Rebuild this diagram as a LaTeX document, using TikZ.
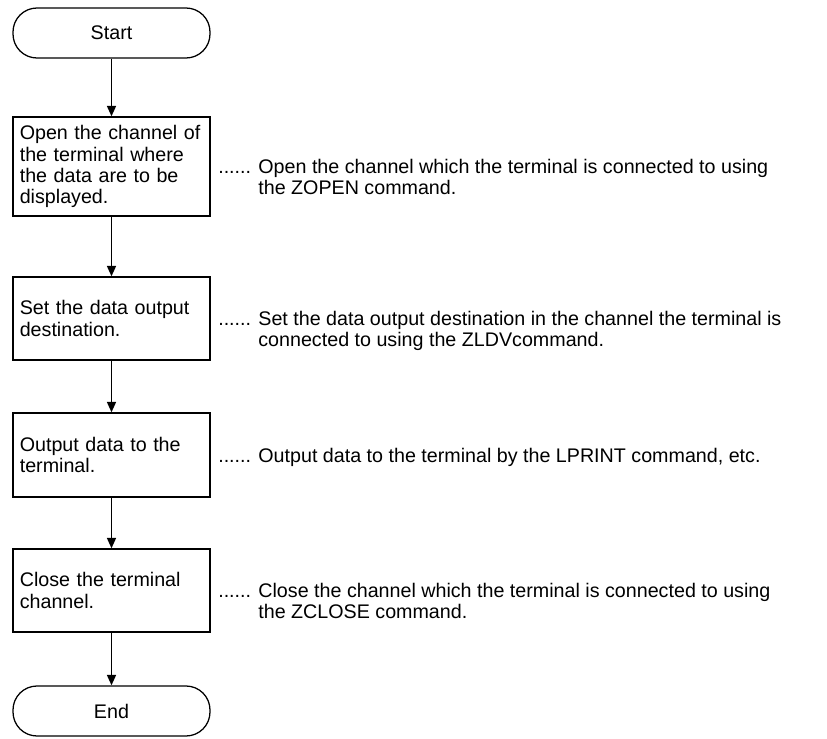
\documentclass[tikz,border=0pt]{standalone}
\usepackage{fontspec}
\setmainfont{Liberation Sans}
\usetikzlibrary{arrows.meta,positioning}
\tikzset{
  term/.style={draw, rectangle, rounded corners=0.6cm, line width=0.9pt, minimum width=4.925cm, minimum height=1.25cm, inner sep=0pt},
  stepbox/.style={draw, rectangle, line width=0.9pt, text width=4.585cm, inner xsep=0.17cm, align=left},
  note/.style={anchor=base west, inner sep=0pt},
  arr/.style={-{Triangle[length=2.6mm,width=2.2mm]}, line width=1.4pt}
}

\begin{document}
\begin{tikzpicture}[font=\fontsize{14}{15}\selectfont]
\useasboundingbox (0,0) rectangle (20.675,-18.45);
\node[term] (start) at (2.7875,-0.825) {Start};
\node[stepbox, minimum height=2.475cm] (open) at (2.7875,-4.1625) {Open the channel of the terminal where the data are to be displayed.};
\node[stepbox, minimum height=2.075cm] (dest) at (2.7875,-7.9625) {Set the data output destination.};
\node[stepbox, minimum height=2.1cm] (out) at (2.7875,-11.375) {Output data to the terminal.};
\node[stepbox, minimum height=2.075cm] (close) at (2.7875,-14.7625) {Close the terminal channel.};
\node[term] (stop) at (2.7875,-17.775) {End};
\draw[arr] (start) -- (open);
\draw[arr] (open) -- (dest);
\draw[arr] (dest) -- (out);
\draw[arr] (out) -- (close);
\draw[arr] (close) -- (stop);

% remarks beside the steps
\node[note] (nopen) at (5.45,-4.3375) {\begin{tabular}[t]{@{}l@{ }l@{}}......&Open the channel which the terminal is connected to using\\ &the ZOPEN command.\end{tabular}};
\node[note] (ndest) at (5.45,-8.1375) {\begin{tabular}[t]{@{}l@{ }l@{}}......&Set the data output destination in the channel the terminal is\\ &connected to using the ZLDVcommand.\end{tabular}};
\node[note] (nout) at (5.45,-11.55) {\begin{tabular}[t]{@{}l@{ }l@{}}......&Output data to the terminal by the LPRINT command, etc.\end{tabular}};
\node[note] (nclose) at (5.45,-14.9375) {\begin{tabular}[t]{@{}l@{ }l@{}}......&Close the channel which the terminal is connected to using\\ &the ZCLOSE command.\end{tabular}};
\end{tikzpicture}
\end{document}
